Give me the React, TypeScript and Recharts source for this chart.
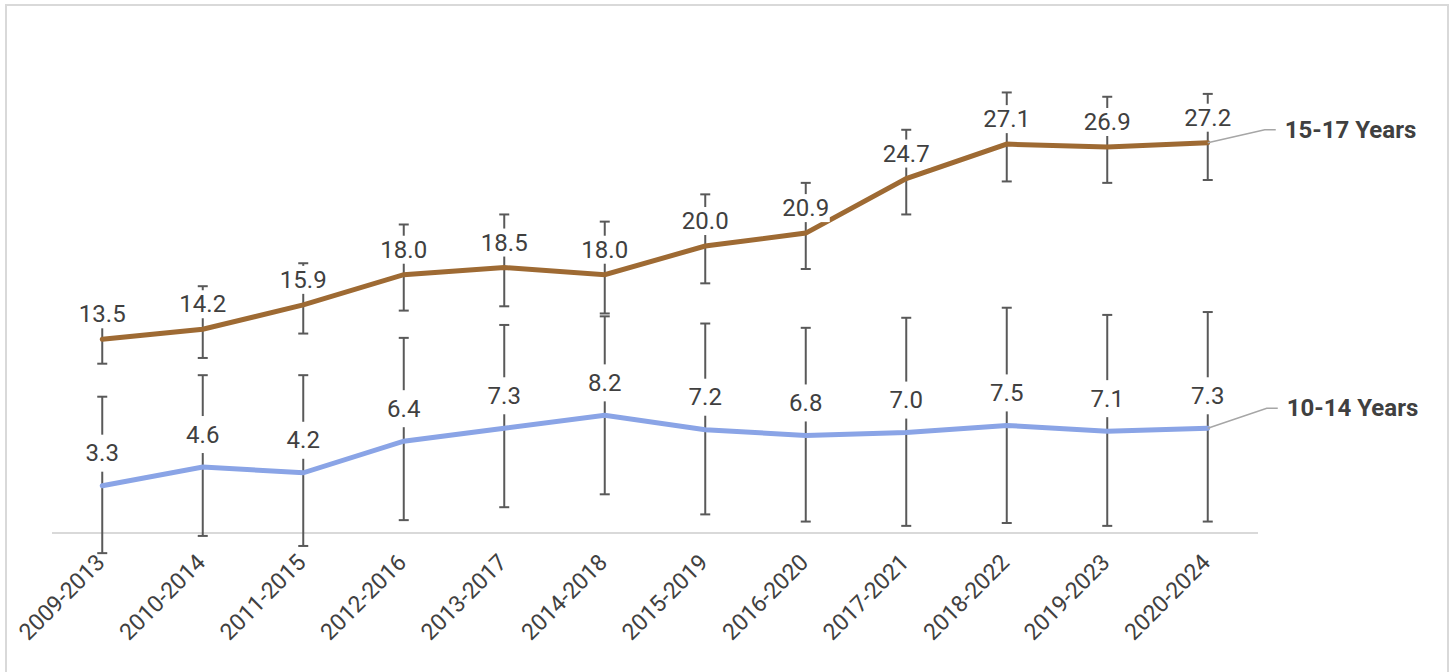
import { LineChart, Line, XAxis, YAxis, ErrorBar, LabelList, ReferenceLine } from 'recharts'

const periods = [
  '2009-2013', '2010-2014', '2011-2015', '2012-2016', '2013-2017', '2014-2018',
  '2015-2019', '2016-2020', '2017-2021', '2018-2022', '2019-2023', '2020-2024',
]

// 10-14 years: rate with lower / upper confidence limits
const rate1014 = [3.3, 4.6, 4.2, 6.4, 7.3, 8.2, 7.2, 6.8, 7.0, 7.5, 7.1, 7.3]
const low1014 = [-1.4, -0.2, -0.9, 0.9, 1.8, 2.7, 1.3, 0.8, 0.5, 0.7, 0.5, 0.8]
const high1014 = [9.5, 11.0, 11.0, 13.6, 14.5, 15.1, 14.6, 14.3, 15.0, 15.7, 15.2, 15.4]

// 15-17 years
const rate1517 = [13.5, 14.2, 15.9, 18.0, 18.5, 18.0, 20.0, 20.9, 24.7, 27.1, 26.9, 27.2]
const low1517 = [11.8, 12.2, 13.9, 15.5, 15.8, 15.3, 17.4, 18.4, 22.2, 24.5, 24.4, 24.6]
const high1517 = [16.0, 17.2, 18.8, 21.5, 22.2, 21.7, 23.6, 24.4, 28.1, 30.7, 30.4, 30.6]

const seriesNames = ['10-14 Years', '15-17 Years']

const data = periods.map((p, i) => ({
  period: p,
  young: rate1014[i],
  youngErr: [+(rate1014[i] - low1014[i]).toFixed(2), +(high1014[i] - rate1014[i]).toFixed(2)],
  older: rate1517[i],
  olderErr: [+(rate1517[i] - low1517[i]).toFixed(2), +(high1517[i] - rate1517[i]).toFixed(2)],
}))

const TEXT = '#404040'
const FONT = 'Roboto, sans-serif'

// value label on a white box; the last point also gets the series name with a leader line
const makeLabel = (name: string, lift: number, boxH: number, leadDx: number, leadDy: number) => (props: any) => {
  const x = props.x ?? props.viewBox?.x
  const y = props.y ?? props.viewBox?.y
  const txt = Number(props.value).toFixed(1)
  const w = txt.length * 11.5 + 2
  const last = props.index === data.length - 1
  return (
    <g>
      <rect x={x - w / 2} y={y - lift - boxH / 2} width={w} height={boxH} fill="#fff" />
      <text x={x} y={y - lift} textAnchor="middle" dominantBaseline="central" fontSize={24} fontFamily={FONT} fill={TEXT}>
        {txt}
      </text>
      {last && (
        <g>
          <polyline
            points={`${x},${y} ${x + leadDx},${y + leadDy} ${x + leadDx + 11},${y + leadDy}`}
            fill="none"
            stroke="#a6a6a6"
            strokeWidth={1.5}
          />
          <text x={x + leadDx + 20} y={y + leadDy} dominantBaseline="central" fontSize={24} fontWeight="bold" fontFamily={FONT} fill={TEXT}>
            {name}
          </text>
        </g>
      )}
    </g>
  )
}

const PeriodTick = (props: any) => {
  const { x, y, payload } = props
  return (
    <text
      x={x + 4}
      y={y}
      transform={`rotate(-45 ${x + 4} ${y})`}
      textAnchor="end"
      fontSize={23}
      fontFamily={FONT}
      fill={TEXT}
    >
      {payload.value}
    </text>
  )
}

export default function App() {
  return (
    <div style={{ position: 'absolute', left: 0, top: 0, width: 1450, height: 672, background: '#fff', overflow: 'hidden' }}>
      <div style={{ position: 'absolute', left: 5, top: 4, width: 1440, height: 700, border: '2px solid #d9d9d9' }} />
      <div style={{ position: 'absolute', left: 0, top: 0 }}>
        <LineChart width={1450} height={672} data={data} margin={{ top: 30.75, right: 192, bottom: 30.25, left: 52 }}>
          <XAxis
            dataKey="period"
            axisLine={false}
            tickLine={false}
            tickSize={0}
            height={80}
            interval={0}
            padding={{ left: 50.25, right: 50.25 }}
            tick={<PeriodTick />}
          />
          <YAxis hide type="number" domain={[-2, 35]} allowDataOverflow />
          <ReferenceLine y={0} stroke="#d9d9d9" strokeWidth={2} />
          <Line
            dataKey="young"
            stroke="#8aa4e6"
            strokeWidth={5}
            strokeLinecap="round"
            dot={false}
            activeDot={false}
            isAnimationActive={false}
          >
            <ErrorBar dataKey="youngErr" direction="y" width={5} stroke="#595959" strokeWidth={2} />
            <LabelList dataKey="young" content={makeLabel(seriesNames[0], 32.5, 37, 59, -20)} />
          </Line>
          <Line
            dataKey="older"
            stroke="#9e6a33"
            strokeWidth={5}
            strokeLinecap="round"
            dot={false}
            activeDot={false}
            isAnimationActive={false}
          >
            <ErrorBar dataKey="olderErr" direction="y" width={5} stroke="#595959" strokeWidth={2} />
            <LabelList dataKey="older" content={makeLabel(seriesNames[1], 25, 28, 57, -13)} />
          </Line>
        </LineChart>
      </div>
    </div>
  )
}
